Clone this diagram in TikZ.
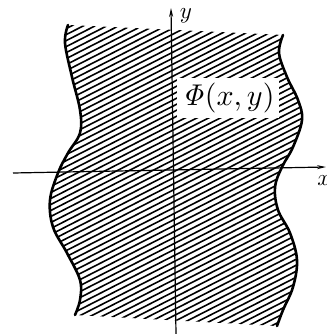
\documentclass[tikz,border=0pt]{standalone}
\usetikzlibrary{arrows.meta}
\begin{document}
\begin{tikzpicture}[x=1pt,y=-1pt,
  boundary/.style={line width=2.6pt,line cap=round},
  hatch/.style={line width=1.6pt},
  axis/.style={line width=1.2pt,-{Stealth[length=9pt,width=4pt]}},
  lbl/.style={inner sep=0pt}]
\useasboundingbox (0,0) rectangle (326,334);
% hatched region
\begin{scope}
\clip plot[smooth,tension=0.6] coordinates {(68,25) (65,43) (72,77) (80,110) (80,133) (68,153) (58,173) (50,200) (53,227) (67,253) (80,280) (80,300) (75,315)}
  -- (277,326)
  -- plot[smooth,tension=0.6] coordinates {(277,326) (283,310) (293,287) (297,260) (290,233) (278,210) (275,187) (282,167) (293,147) (302,120) (298,100) (287,77) (279,53) (283,35)}
  -- cycle;
\foreach \c in {0,6,...,528} {
  \draw[hatch] (40,\c) -- (330,\c-148);
}
\end{scope}
% boundaries
\draw[boundary] plot[smooth,tension=0.6] coordinates {(68,25) (65,43) (72,77) (80,110) (80,133) (68,153) (58,173) (50,200) (53,227) (67,253) (80,280) (80,300) (75,315)};
\draw[boundary] plot[smooth,tension=0.6] coordinates {(283,35) (279,53) (287,77) (298,100) (302,120) (293,147) (282,167) (275,187) (278,210) (290,233) (297,260) (293,287) (283,310) (277,326)};
% label box
\node[fill=white,inner sep=1.5pt,scale=3.0] (phi) at (228,98) {$\mathit{\Phi}(x,y)$};
% axes
\coordinate (yb) at (176,334);
\coordinate (yt) at (171,8);
\coordinate (xl) at (13,173);
\coordinate (xr) at (326,167);
\draw[axis] (yb) -- (yt);
\draw[axis] (xl) -- (xr);
\node[lbl,scale=2.3,anchor=base] (ylab) at (186,19) {$y$};
\node[lbl,scale=2.3,anchor=base west] (xlab) at (317,185) {$x$};
\end{tikzpicture}
\end{document}
